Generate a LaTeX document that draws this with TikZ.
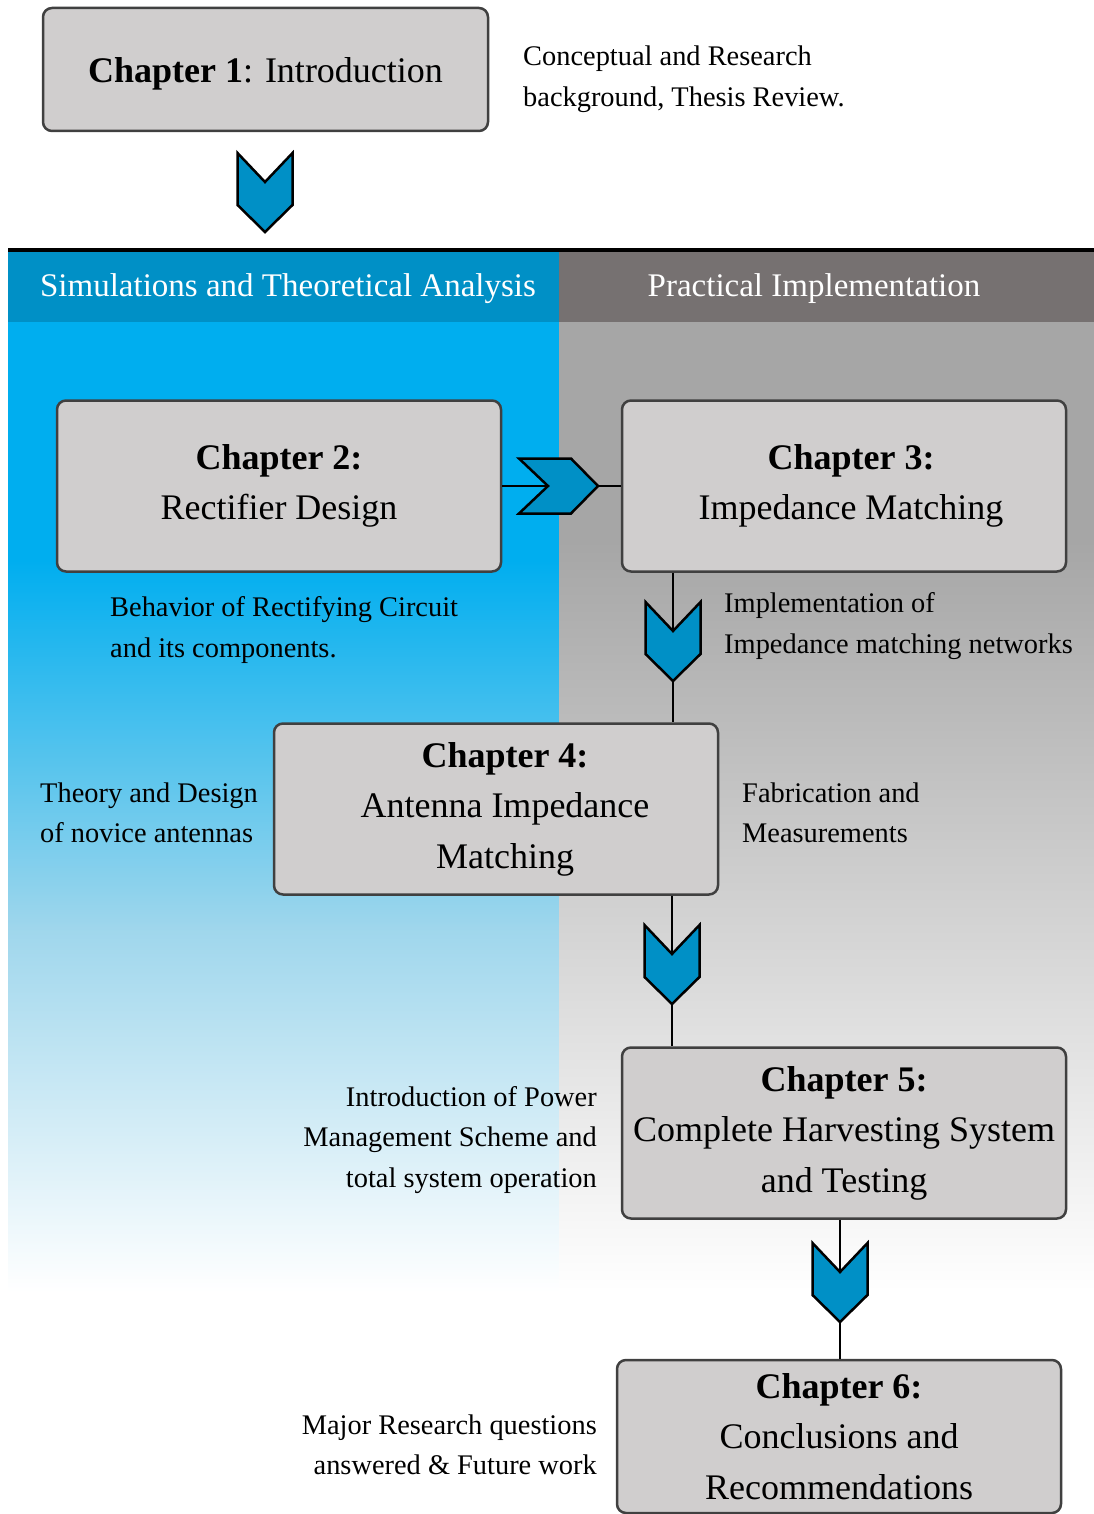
\documentclass[tikz,border=0pt]{standalone}
\usepackage{fontspec}
\setmainfont{Liberation Serif}
\definecolor{cyanband}{HTML}{00AEEF}
\definecolor{cyanmid}{HTML}{9ED6EC}
\definecolor{headblue}{HTML}{0090C6}
\definecolor{headgray}{HTML}{767171}
\definecolor{colgray}{HTML}{A6A6A6}
\definecolor{boxfill}{HTML}{D0CECE}
\definecolor{boxedge}{HTML}{404040}
\definecolor{chevblue}{HTML}{0090C6}
\newcommand{\chapfont}{\fontsize{36}{50.5}\selectfont}
\newcommand{\notefont}{\fontsize{28.4}{40.5}\selectfont}
\newcommand{\headfont}{\fontsize{33}{38}\selectfont}
\begin{document}
\begin{tikzpicture}[x=1pt,y=-1pt,
  chapbox/.style={draw=boxedge, fill=boxfill, line width=2.5pt, rounded corners=9pt,
    minimum width=444pt, minimum height=171pt, align=center, font=\chapfont, inner sep=0pt},
  note/.style={font=\notefont, inner sep=0pt},
  headtext/.style={font=\headfont, text=white, inner sep=0pt},
  chevron/.style={fill=chevblue, draw=black, line width=2.5pt, line join=miter},
  link/.style={draw=black, line width=2.5pt},
  chevdown/.pic={\path[chevron] (-27.5,0) -- (0,29) -- (27.5,0) -- (27.5,52) -- (0,79) -- (-27.5,52) -- cycle;},
  chevright/.pic={\path[chevron] (0,-27.5) -- (29,0) -- (0,27.5) -- (52,27.5) -- (79,0) -- (52,-27.5) -- cycle;}
]
\useasboundingbox (0,0) rectangle (1094,1514);
\fill[white] (0,0) rectangle (1094,1514);

% column backgrounds
\fill[cyanband] (8,322) rectangle (559,562);
\shade[top color=cyanband, bottom color=cyanmid] (8,560) rectangle (559,927);
\shade[top color=cyanmid, bottom color=white] (8,925) rectangle (559,1292);
\fill[colgray] (559,322) rectangle (1094,542);
\shade[top color=colgray, bottom color=white] (559,540) rectangle (1094,1292);

% header band
\fill[headblue] (8,252) rectangle (559,322);
\fill[headgray] (559,252) rectangle (1094,322);
\draw[line width=4pt] (8,250) -- (1094,250);
\node[headtext] (hsim) at (288,289) {Simulations and Theoretical Analysis};
\node[headtext] (hprac) at (814,289) {Practical Implementation};

% chapter boxes
\node[chapbox, minimum height=123pt, minimum width=445pt, text height=35pt, text depth=8pt] (ch1) at (265.5,69.5) {\textbf{Chapter 1}: Introduction};
\node[chapbox] (ch2) at (279,486) {\textbf{Chapter 2:}\\Rectifier Design};
\node[chapbox] (ch3) at (844,486) {\hspace*{14pt}\textbf{Chapter 3:}\\\hspace*{14pt}Impedance Matching};
\node[chapbox] (ch4) at (496,809) {\hspace*{18pt}\textbf{Chapter 4:}\\\hspace*{18pt}Antenna Impedance\\\hspace*{18pt}Matching};
\node[chapbox] (ch5) at (844,1133) {\textbf{Chapter 5:}\\Complete Harvesting System\\and Testing};
\node[chapbox, minimum height=153pt] (ch6) at (839,1436.5) {\textbf{Chapter 6:}\\Conclusions and\\Recommendations};

% connectors and chevrons
\pic at (265,153) {chevdown};
\coordinate (x34) at (673,0);
\coordinate (x45) at (672,0);
\coordinate (x56) at (840,0);
\draw[link] (ch2.east) -- (ch3.west);
\pic at (519,486) {chevright};
\draw[link] (ch3.south -| x34) -- (ch4.north -| x34);
\pic at (673,602) {chevdown};
\draw[link] (ch4.south -| x45) -- (ch5.north -| x45);
\pic at (672,925) {chevdown};
\draw[link] (ch5.south -| x56) -- (ch6.north -| x56);
\pic at (840,1243) {chevdown};

% side notes
\node[note, anchor=west, align=left] (n1) at (523,79) {Conceptual and Research\\background, Thesis Review.};
\node[note, anchor=west, align=left] (n2) at (110,630) {Behavior of Rectifying Circuit\\and its components.};
\node[note, anchor=west, align=left] (n3) at (724,626) {Implementation of\\Impedance matching networks};
\node[note, anchor=west, align=left] (n4) at (40,813) {Theory and Design\\of novice antennas};
\node[note, anchor=west, align=left] (n5) at (742,813) {Fabrication and\\Measurements};
\node[note, anchor=east, align=right] (n6) at (597,1140) {Introduction of Power\\Management Scheme and\\total system operation};
\node[note, anchor=east, align=right] (n7) at (597,1445) {Major Research questions\\answered \& Future work};
\end{tikzpicture}
\end{document}
